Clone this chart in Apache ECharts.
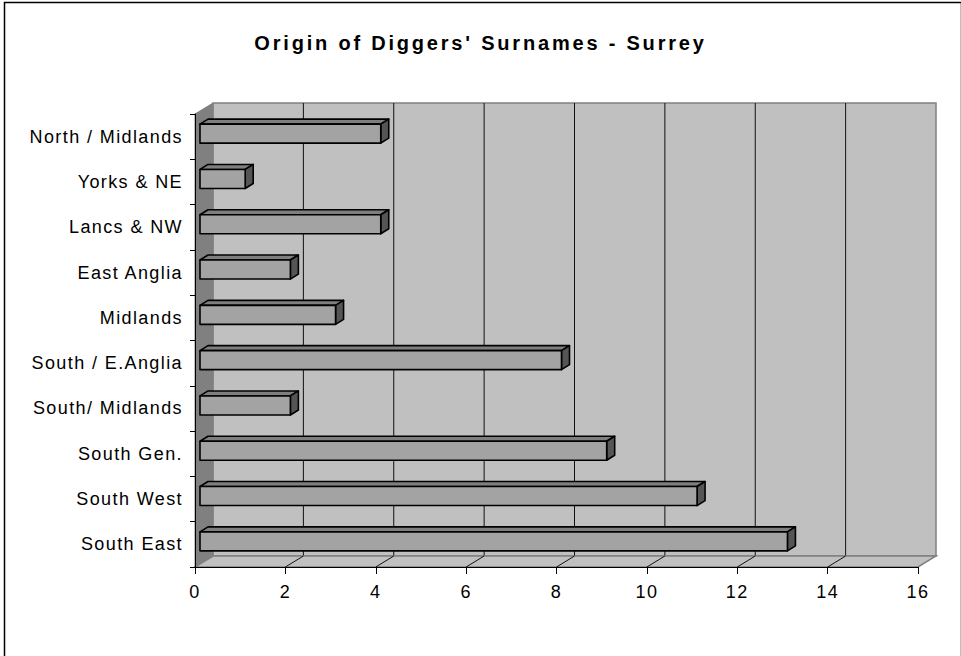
<!DOCTYPE html>
<html>
<head>
<meta charset="utf-8">
<script src="https://cdn.jsdelivr.net/npm/echarts@6/dist/echarts.min.js"></script>
<style>
  html, body { margin: 0; padding: 0; background: #fff; }
  #main { width: 961px; height: 656px; }
  #main text { letter-spacing: 1.4px; }
  #main text[style*="bold"] { letter-spacing: 2.8px; }
</style>
</head>
<body>
<div id="main"></div>
<script>
// ---- data ----
const titleText = "Origin of Diggers' Surnames - Surrey";
const categories = ['North / Midlands', 'Yorks & NE', 'Lancs & NW', 'East Anglia', 'Midlands',
                    'South / E.Anglia', 'South/ Midlands', 'South Gen.', 'South West', 'South East'];
const values = [4, 1, 4, 2, 3, 8, 2, 9, 11, 13];
const xTicks = [0, 2, 4, 6, 8, 10, 12, 14, 16];

// ---- 3D style constants ----
const DX = 18, DY = -11;          // wall depth offset
const BAR_DX = 5, BAR_DY = -3;    // bar front face offset
const BD_X = 8, BD_Y = -5;        // bar depth
const FONT = '"Liberation Sans", Arial, sans-serif';

const chart = echarts.init(document.getElementById('main'), null, { renderer: 'svg' });

function renderFrame(params, api) {
  const cs = params.coordSys;
  const left = cs.x, top = cs.y, right = cs.x + cs.width, bottom = cs.y + cs.height;
  const children = [];
  // back wall
  children.push({ type: 'rect', shape: { x: left + DX, y: top + DY, width: cs.width, height: cs.height },
    style: { fill: '#c0c0c0', stroke: '#808080', lineWidth: 1.5 } });
  // back wall grid lines
  xTicks.slice(1, -1).forEach(function (t) {
    const x = api.coord([t, 0])[0] + DX;
    children.push({ type: 'line', shape: { x1: x, y1: top + DY, x2: x, y2: bottom + DY },
      style: { stroke: '#111', lineWidth: 1 } });
  });
  // left wall
  children.push({ type: 'polygon', shape: { points: [[left, top], [left + DX, top + DY], [left + DX, bottom + DY], [left, bottom]] },
    style: { fill: '#808080', stroke: '#808080', lineWidth: 1 } });
  // floor
  children.push({ type: 'polygon', shape: { points: [[left, bottom], [left + DX, bottom + DY], [right + DX, bottom + DY], [right, bottom]] },
    style: { fill: '#c0c0c0', stroke: '#808080', lineWidth: 1.5 } });
  // floor diagonals
  xTicks.slice(1, -1).forEach(function (t) {
    const x = api.coord([t, 0])[0];
    children.push({ type: 'line', shape: { x1: x, y1: bottom, x2: x + DX, y2: bottom + DY },
      style: { stroke: '#111', lineWidth: 1 } });
  });
  return { type: 'group', children: children };
}

function renderBar(params, api) {
  const v = api.value(0), i = api.value(1);
  const p0 = api.coord([0, i]);
  const p1 = api.coord([v, i]);
  const h = api.size([0, 1])[1] * 0.42;
  const x0 = p0[0] + BAR_DX, x1 = p1[0] + BAR_DX;
  const yT = p0[1] - h / 2 + BAR_DY, yB = yT + h;
  const st = { stroke: '#000', lineWidth: 1.6, lineJoin: 'round' };
  return {
    type: 'group',
    children: [
      { type: 'polygon', shape: { points: [[x0, yT], [x0 + BD_X, yT + BD_Y], [x1 + BD_X, yT + BD_Y], [x1, yT]] },
        style: Object.assign({ fill: '#7f7f7f' }, st) },
      { type: 'polygon', shape: { points: [[x1, yT], [x1 + BD_X, yT + BD_Y], [x1 + BD_X, yB + BD_Y], [x1, yB]] },
        style: Object.assign({ fill: '#555555' }, st) },
      { type: 'rect', shape: { x: x0, y: yT, width: x1 - x0, height: h },
        style: Object.assign({ fill: '#a3a3a3' }, st) }
    ]
  };
}

chart.setOption({
  backgroundColor: '#ffffff',
  animation: false,
  title: {
    text: titleText,
    left: 'center',
    top: 28,
    textStyle: { fontFamily: FONT, fontSize: 20, fontWeight: 'bold', color: '#000' }
  },
  graphic: [{
    type: 'rect', left: 2, top: 0, silent: true,
    shape: { x: 0, y: 0, width: 957, height: 700 },
    style: { fill: 'none', stroke: '#000', lineWidth: 1.5 }
  }],
  grid: { left: 195, right: 43, top: 114, bottom: 89, containLabel: false },
  xAxis: {
    type: 'value',
    min: xTicks[0], max: xTicks[xTicks.length - 1], interval: 2,
    z: 10,
    axisLine: { show: true, lineStyle: { color: '#000', width: 1 } },
    axisTick: { show: true, length: 7, lineStyle: { color: '#000' } },
    splitLine: { show: false },
    axisLabel: { fontFamily: FONT, fontSize: 18, color: '#000', margin: 16 }
  },
  yAxis: {
    type: 'category',
    data: categories,
    inverse: true,
    z: 10,
    axisLine: { show: true, lineStyle: { color: '#000', width: 1 } },
    axisTick: { show: true, length: 5, lineStyle: { color: '#000' } },
    splitLine: { show: false },
    axisLabel: { fontFamily: FONT, fontSize: 18, color: '#000', margin: 12 }
  },
  series: [
    {
      type: 'custom', name: 'frame', silent: true, z: 1, clip: false,
      renderItem: renderFrame,
      data: [[0, 0]]
    },
    {
      type: 'custom', name: 'Surnames', z: 3, clip: false,
      renderItem: renderBar,
      encode: { x: 0, y: 1 },
      data: values.map(function (v, i) { return [v, categories[i]]; })
    }
  ]
});
</script>
</body>
</html>
